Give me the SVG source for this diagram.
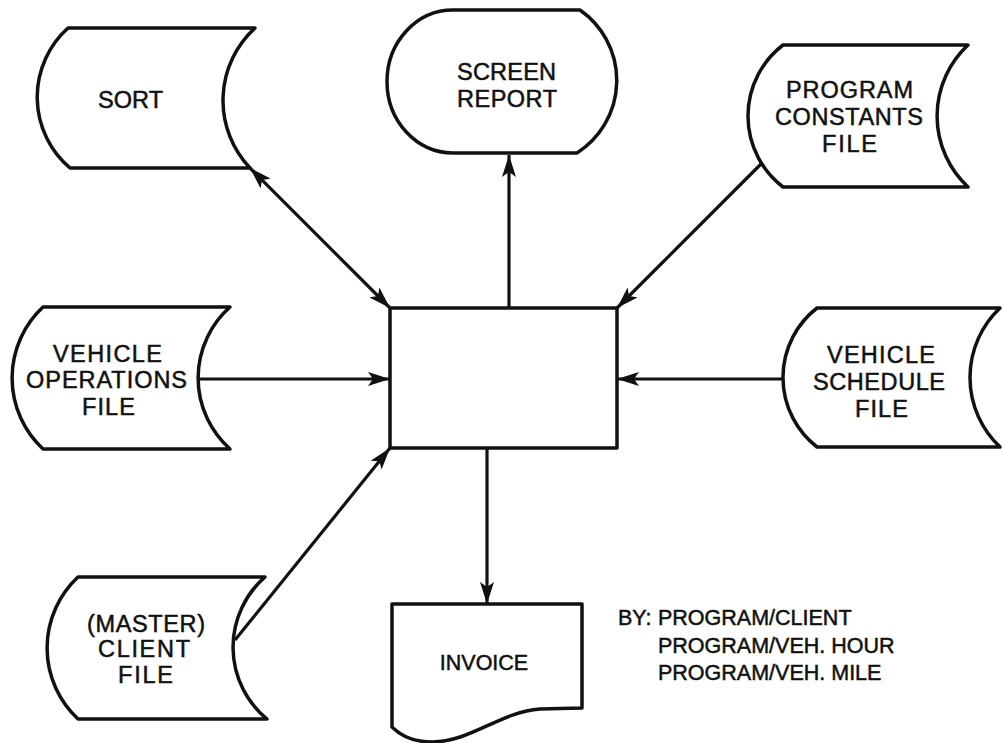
<svg xmlns="http://www.w3.org/2000/svg" width="1003" height="743" viewBox="0 0 1003 743">
<style>
.s{fill:#fff;stroke:#111;stroke-width:3.5;stroke-linejoin:round}
.t{font-family:"Liberation Sans",Arial,sans-serif;font-size:23.5px;fill:#111;stroke:#111;stroke-width:0.5}
.n{font-size:21.5px}
.c{fill:none;stroke:#111;stroke-width:3.2}
</style>
<defs>
<marker id="ah" viewBox="0 0 22 14" refX="22" refY="7" markerWidth="22" markerHeight="14" markerUnits="userSpaceOnUse" orient="auto-start-reverse">
<path d="M0,0 L22,7 L0,14 L5,7 Z" fill="#111"/>
</marker>
</defs>
<rect width="1003" height="743" fill="#fff"/>
<g id="connectors">
<line class="c" x1="250" y1="168" x2="390" y2="308" marker-start="url(#ah)" marker-end="url(#ah)"/>
<line class="c" x1="509" y1="308" x2="509" y2="155" marker-end="url(#ah)"/>
<line class="c" x1="762" y1="163" x2="617" y2="308" marker-end="url(#ah)"/>
<line class="c" x1="198" y1="379" x2="390" y2="379" marker-end="url(#ah)"/>
<line class="c" x1="783" y1="379" x2="617" y2="379" marker-end="url(#ah)"/>
<line class="c" x1="235" y1="640" x2="390" y2="448" marker-end="url(#ah)"/>
<line class="c" x1="487" y1="448" x2="487" y2="604" marker-end="url(#ah)"/>
</g>
<g id="sort">
<path class="s" d="M68,28 L255,28 A98,98 0 0 0 250,168 L70,168 A93,93 0 0 1 68,28 Z"/>
<text class="t" x="98" y="108" textLength="65">SORT</text>
</g>
<g id="screen-report">
<path class="s" d="M453,10 L580,10 A86,86 0 0 1 577,153 L453,153 A66,71.5 0 0 1 453,10 Z"/>
<text class="t" x="457" y="80" textLength="99">SCREEN</text>
<text class="t" x="457" y="107" textLength="100">REPORT</text>
</g>
<g id="program-constants-file">
<path class="s" d="M783,45 L968,45 A97,97 0 0 0 968,187 L783,187 A89.5,89.5 0 0 1 783,45 Z"/>
<text class="t" x="786" y="98" textLength="127">PROGRAM</text>
<text class="t" x="775" y="125" textLength="148">CONSTANTS</text>
<text class="t" x="822" y="152" textLength="55">FILE</text>
</g>
<g id="process">
<rect class="s" x="390" y="308" width="227" height="140"/>
</g>
<g id="vehicle-operations-file">
<path class="s" d="M43,307 L230,307 A95,95 0 0 0 230,449 L43,449 A97,97 0 0 1 43,307 Z"/>
<text class="t" x="53" y="362" textLength="109">VEHICLE</text>
<text class="t" x="26" y="388" textLength="161">OPERATIONS</text>
<text class="t" x="82" y="415" textLength="53">FILE</text>
</g>
<g id="vehicle-schedule-file">
<path class="s" d="M817,308 L1000,308 A95.5,95.5 0 0 0 1000,447 L817,447 A88,88 0 0 1 817,308 Z"/>
<text class="t" x="827" y="363" textLength="108">VEHICLE</text>
<text class="t" x="813" y="390" textLength="132">SCHEDULE</text>
<text class="t" x="855" y="417" textLength="53">FILE</text>
</g>
<g id="master-client-file">
<path class="s" d="M78,577 L265,577 A93,93 0 0 0 267,719 L78,719 A97,97 0 0 1 78,577 Z"/>
<text class="t" x="87" y="632" textLength="118">(MASTER)</text>
<text class="t" x="98" y="657" textLength="92">CLIENT</text>
<text class="t" x="118" y="683" textLength="55">FILE</text>
</g>
<g id="invoice">
<path class="s" d="M392,604 L582,604 L582,708 L540,709 C500,712 470,742 432,742 C412,742 400,735 392,727 Z"/>
<text class="t n" x="484" y="670" text-anchor="middle">INVOICE</text>
</g>
<g id="note">
<text class="t n" x="618" y="625">BY:</text>
<text class="t n" x="658" y="625">PROGRAM/CLIENT</text>
<text class="t n" x="658" y="653">PROGRAM/VEH. HOUR</text>
<text class="t n" x="658" y="680">PROGRAM/VEH. MILE</text>
</g>
</svg>
